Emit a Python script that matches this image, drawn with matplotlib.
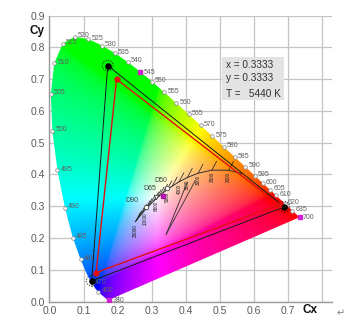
import numpy as np
import matplotlib
matplotlib.use("Agg")
import matplotlib.pyplot as plt
from matplotlib.patches import Polygon, Rectangle

# ---------------- data ----------------
# CIE 1931 2-degree spectral locus (wavelength nm, x, y)
wl = [380, 385, 390, 395, 400, 405, 410, 415, 420, 425, 430, 435, 440, 445, 450,
      455, 460, 465, 470, 475, 480, 485, 490, 495, 500, 505, 510, 515, 520, 525,
      530, 535, 540, 545, 550, 555, 560, 565, 570, 575, 580, 585, 590, 595, 600,
      605, 610, 615, 620, 625, 630, 635, 640, 645, 650, 655, 660, 665, 670, 680,
      690, 700]
locus_x = [0.1741, 0.1740, 0.1738, 0.1736, 0.1733, 0.1730, 0.1726, 0.1721, 0.1714,
           0.1703, 0.1689, 0.1669, 0.1644, 0.1611, 0.1566, 0.1510, 0.1440, 0.1355,
           0.1241, 0.1096, 0.0913, 0.0687, 0.0454, 0.0235, 0.0082, 0.0039, 0.0139,
           0.0389, 0.0743, 0.1142, 0.1547, 0.1929, 0.2296, 0.2658, 0.3016, 0.3373,
           0.3731, 0.4087, 0.4441, 0.4788, 0.5125, 0.5448, 0.5752, 0.6029, 0.6270,
           0.6482, 0.6658, 0.6801, 0.6915, 0.7006, 0.7079, 0.7140, 0.7190, 0.7230,
           0.7260, 0.7283, 0.7300, 0.7311, 0.7320, 0.7334, 0.7344, 0.7347]
locus_y = [0.0050, 0.0050, 0.0049, 0.0049, 0.0048, 0.0048, 0.0048, 0.0048, 0.0051,
           0.0058, 0.0069, 0.0086, 0.0109, 0.0138, 0.0177, 0.0227, 0.0297, 0.0399,
           0.0578, 0.0868, 0.1327, 0.2007, 0.2950, 0.4127, 0.5384, 0.6548, 0.7502,
           0.8120, 0.8338, 0.8262, 0.8059, 0.7816, 0.7543, 0.7243, 0.6923, 0.6589,
           0.6245, 0.5896, 0.5547, 0.5202, 0.4866, 0.4544, 0.4242, 0.3965, 0.3725,
           0.3514, 0.3340, 0.3197, 0.3083, 0.2993, 0.2920, 0.2859, 0.2809, 0.2770,
           0.2740, 0.2717, 0.2700, 0.2689, 0.2680, 0.2666, 0.2656, 0.2653]
label_wl = [460, 470, 480, 485, 490, 495, 500, 505, 510, 515, 520, 525, 530, 535,
            540, 550, 555, 560, 565, 570, 575, 580, 585, 590, 595, 600, 605, 610,
            620, 635]
special_wl = [380, 545, 700]

# Planckian locus (temperature K, x, y)
planck_T = [1667, 2000, 2500, 3000, 3500, 4000, 4500, 5000, 5500, 6000, 6500, 7000,
            8000, 9000, 10000, 12000, 15000, 20000, 25000]
planck_x = [0.5646, 0.5267, 0.4770, 0.4369, 0.4053, 0.3805, 0.3608, 0.3451, 0.3325,
            0.3221, 0.3135, 0.3064, 0.2952, 0.2869, 0.2807, 0.2719, 0.2637, 0.2565,
            0.2524]
planck_y = [0.4029, 0.4133, 0.4137, 0.4041, 0.3907, 0.3768, 0.3636, 0.3516, 0.3411,
            0.3318, 0.3237, 0.3166, 0.3048, 0.2956, 0.2884, 0.2776, 0.2668, 0.2567,
            0.2512]
planck_label_T = [2000, 2500, 3000, 3500, 4000, 5000, 6500, 10000, 25000]

# Standard illuminants
illum_names = ["D50", "D65", "D90"]
illum_x = [0.3457, 0.3127, 0.2838]
illum_y = [0.3585, 0.3290, 0.2970]

# Gamut triangles
black_x = [0.690, 0.171, 0.124]
black_y = [0.298, 0.743, 0.065]
red_x = [0.675, 0.197, 0.137]
red_y = [0.305, 0.700, 0.091]

# two straight lines below the Planckian locus
vline_x0 = [0.343, 0.343]
vline_y0 = [0.212, 0.212]
vline_x1 = [0.405, 0.428]
vline_y1 = [0.376, 0.380]

white_x, white_y, cct = 0.3333, 0.3333, 5440

x_ticks = [0.0, 0.1, 0.2, 0.3, 0.4, 0.5, 0.6, 0.7, 0.8]
x_labels = ["0.0", "0.1", "0.2", "0.3", "0.4", "0.5", "0.6", "0.7", ""]
y_ticks = [0.0, 0.1, 0.2, 0.3, 0.4, 0.5, 0.6, 0.7, 0.8, 0.9]
y_labels = ["0.0", "0.1", "0.2", "0.3", "0.4", "0.5", "0.6", "0.7", "0.8", "0.9"]

# ---------------- figure ----------------
FONT = "Liberation Sans"
fig = plt.figure(figsize=(3.5, 3.24), dpi=100)
ax = fig.add_axes([0.1414, 0.0694, 0.8071, 0.8821])

# chromaticity colour fill
xs = np.linspace(0.0005, 0.8, 500)
ys = np.linspace(0.0005, 0.9, 500)
GX, GY = np.meshgrid(xs, ys)
Xc = GX / GY
Yc = np.ones_like(GX)
Zc = (1 - GX - GY) / GY
R = 3.2406 * Xc - 1.5372 * Yc - 0.4986 * Zc
G = -0.9689 * Xc + 1.8758 * Yc + 0.0415 * Zc
B = 0.0557 * Xc - 0.2040 * Yc + 1.0570 * Zc
rgb = np.clip(np.stack([R, G, B], -1), 0, None)
rgb = rgb / np.maximum(rgb.max(axis=-1, keepdims=True), 1e-9)
rgb = np.where(rgb <= 0.0031308, 12.92 * rgb, 1.055 * rgb ** (1 / 2.4) - 0.055)
rgb = np.clip(rgb, 0, 1)
im = ax.imshow(rgb, origin="lower", extent=[0, 0.8, 0, 0.9], aspect="auto",
               interpolation="bilinear", zorder=1)
clip = Polygon(np.column_stack([locus_x, locus_y]), closed=True,
               transform=ax.transData)
im.set_clip_path(clip)

ax.set_xlim(0, 0.83)
ax.set_ylim(0, 0.9)
ax.set_xticks(x_ticks)
ax.set_xticklabels(x_labels)
ax.set_yticks(y_ticks)
ax.set_yticklabels(y_labels)
ax.tick_params(length=0, pad=3, labelsize=7.5, labelcolor="#5a5a5a")
for lab in ax.get_xticklabels() + ax.get_yticklabels():
    lab.set_family(FONT)
ax.grid(True, color="#c4c4c4", lw=0.9, zorder=0)
ax.set_axisbelow(True)
for s in ["top", "right"]:
    ax.spines[s].set_visible(False)
for s in ["left", "bottom"]:
    ax.spines[s].set_color("#9a9a9a")
    ax.spines[s].set_linewidth(1.0)

# wavelength markers and labels
for w, x, y in zip(wl, locus_x, locus_y):
    if w in special_wl:
        ax.plot(x, y, "s", ms=3.2, mfc="#d020d0", mec="#d020d0", zorder=5)
        ax.annotate(str(w), (x, y), xytext=(2.5, -0.5), textcoords="offset points",
                    fontsize=5, color="#606060", va="center", ha="left",
                    family=FONT, zorder=6)
    elif w in label_wl:
        ax.plot(x, y, "o", ms=2.6, mfc="white", mec="#808080", mew=0.5, zorder=5)
        ax.annotate(str(w), (x, y), xytext=(2.2, 0.8), textcoords="offset points",
                    fontsize=5, color="#606060", va="center", ha="left",
                    family=FONT, zorder=6)

# Planckian locus with isotherm hatches and labels
ax.plot(planck_x, planck_y, color="#303030", lw=0.7, zorder=4)
for T, x, y in zip(planck_T[1:], planck_x[1:], planck_y[1:]):
    ax.annotate("", (x, y), xytext=(3.5, 6.5), textcoords="offset points",
                arrowprops=dict(arrowstyle="-", color="#202020", lw=0.5,
                                shrinkA=0, shrinkB=0), zorder=4)
    if T in planck_label_T:
        ax.annotate(str(T), (x, y), xytext=(0, -1.5), textcoords="offset points",
                    fontsize=3.3, rotation=90, color="#202020", ha="center",
                    va="top", family=FONT, zorder=4)
for x0, y0, x1, y1 in zip(vline_x0, vline_y0, vline_x1, vline_y1):
    ax.plot([x0, x1], [y0, y1], color="#303030", lw=0.6, zorder=4)

# illuminants
illum_mk = ["o", "v", "o"]
illum_off = [(-4.3, 5.1), (-4.6, 6.0), (-10.5, 4.8)]
for n, x, y, m, off in zip(illum_names, illum_x, illum_y, illum_mk, illum_off):
    ax.plot(x, y, m, ms=3.2, mfc="white", mec="#404040", mew=0.6, zorder=5)
    ax.annotate(n, (x, y), xytext=off, textcoords="offset points", fontsize=5,
                color="#404040", ha="center", va="center", family=FONT, zorder=6)

# equal energy / selected point
ax.plot(white_x, white_y, "s", ms=3.2, mfc="#b010b0", mec="#b010b0", zorder=6)

# gamut triangles
ax.fill(black_x, black_y, fill=False, ec="#1a1a1a", lw=0.7, zorder=7)
ax.fill(red_x, red_y, fill=False, ec="#e01010", lw=1.0, zorder=8)
ax.scatter(black_x, black_y, s=60, facecolors="none", edgecolors="#101010",
           linewidths=0.7, linestyles=":", zorder=9)
ax.scatter(black_x, black_y, s=14, c="#000000", marker="o", zorder=9)
ax.scatter(red_x, red_y, s=12, c="#e01010", marker="o", zorder=10)

# info box
bx0, bx1 = 0.507, 0.689
by0, by1 = 0.635, 0.770
ax.add_patch(Rectangle((bx0, by0), bx1 - bx0, by1 - by0, fc="#e3e3e3", ec="none",
                       zorder=3))
info = [f"x = {white_x:.4f}", f"y = {white_y:.4f}", f"T =   {cct} K"]
info_y = [0.745, 0.704, 0.654]
for s, yy in zip(info, info_y):
    ax.text(0.519, yy, s, fontsize=7.2, color="#303030", family=FONT,
            va="center", ha="left", zorder=4)

# axis labels
fig.text(37 / 350, 1 - 31 / 324, "Cy", fontsize=8.5, fontweight="bold",
         color="#111111", family=FONT, ha="center", va="center")
fig.text(310 / 350, 1 - 310 / 324, "Cx", fontsize=8.5, fontweight="bold",
         color="#111111", family=FONT, ha="center", va="center")
fig.text(341 / 350, 1 - 313 / 324, "\u21b5", fontsize=7, color="#808080",
         ha="center", va="center", family=["DejaVu Sans"])

fig.savefig("out.png", dpi=100)
